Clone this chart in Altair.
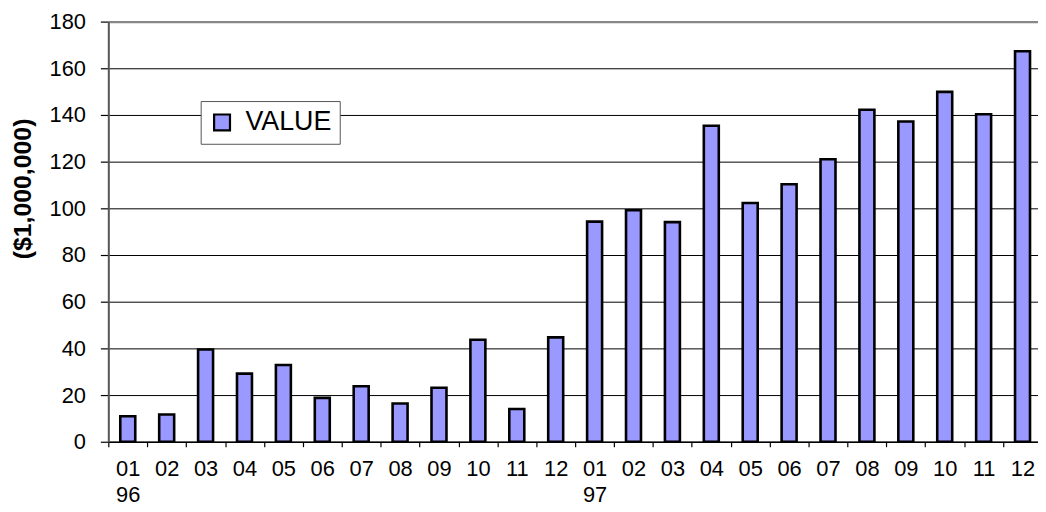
import altair as alt
import pandas as pd

years = ["1996"] * 12 + ["1997"] * 12
months = ["01", "02", "03", "04", "05", "06", "07", "08", "09", "10", "11", "12"] * 2
values = [
    10.9, 11.7, 39.5, 29.2, 32.9, 18.8, 23.8, 16.4, 23.1, 43.7, 14.0, 44.7,
    94.3, 99.2, 94.1, 135.4, 102.3, 110.3, 121.0, 142.2, 137.2, 149.9, 140.3, 167.3,
]
series_name = "VALUE"
y_ticks = [0, 20, 40, 60, 80, 100, 120, 140, 160, 180]

df = pd.DataFrame({
    "key": [f"{y}-{m}" for y, m in zip(years, months)],
    "value": values,
    "series": [series_name] * len(values),
})

FONT = "Liberation Sans"

label_expr = (
    "!isString(datum.value) ? '' : "
    "substring(datum.value,5,7) == '01' ? "
    "[substring(datum.value,5,7), substring(datum.value,2,4)] : "
    "substring(datum.value,5,7)"
)

chart = alt.Chart(df).mark_bar(
    width=alt.RelativeBandSize(0.385),
    stroke="black",
    strokeWidth=2.6,
).encode(
    x=alt.X(
        "key:O",
        sort=None,
        scale=alt.Scale(range=[0, 940], paddingInner=0, paddingOuter=0),
        axis=alt.Axis(
            title=None,
            labelAngle=0,
            labelExpr=label_expr,
            labelFont=FONT,
            labelFontSize=22,
            labelColor="black",
            labelPadding=12,
            labelLineHeight=26,
            tickBand="extent",
            tickSize=5,
            tickColor="black",
            tickWidth=1.2,
            domainColor="black",
            domainWidth=1.5,
            grid=False,
        ),
    ),
    y=alt.Y(
        "value:Q",
        scale=alt.Scale(domain=[0, 180], nice=False),
        axis=alt.Axis(
            values=y_ticks,
            title="($1,000,000)",
            titleFont=FONT,
            titleFontSize=25,
            titleFontWeight="bold",
            titleColor="black",
            titleX=-86,
            titleY=168,
            titleBaseline="middle",
            labelFont=FONT,
            labelFontSize=22,
            labelColor="black",
            labelPadding=15,
            tickSize=8,
            tickColor="black",
            tickWidth=1.2,
            domainColor="#555555",
            domainWidth=2,
            grid=True,
            gridColor=alt.condition(alt.datum.value == 180, alt.value("#888888"), alt.value("black")),
            gridWidth=alt.condition(alt.datum.value == 180, alt.value(2.2), alt.value(1)),
        ),
    ),
    color=alt.Color(
        "series:N",
        scale=alt.Scale(domain=[series_name], range=["#9999ff"]),
        legend=alt.Legend(
            title=None,
            orient="none",
            legendX=93,
            legendY=80,
            padding=8,
            strokeColor="#555555",
            fillColor="white",
            symbolType="square",
            symbolSize=256,
            symbolStrokeColor="black",
            symbolStrokeWidth=2.2,
            symbolOpacity=1,
            labelFont=FONT,
            labelFontSize=27,
            labelColor="black",
            labelOffset=10,
        ),
    ),
).properties(
    width=936,
    height=423,
    autosize=alt.AutoSizeParams(type="none"),
    padding={"left": 101, "top": 12, "right": 0, "bottom": 63},
    background="white",
).configure_view(stroke=None)

chart.save("out.html", embed_options={"renderer": "svg", "actions": False})
